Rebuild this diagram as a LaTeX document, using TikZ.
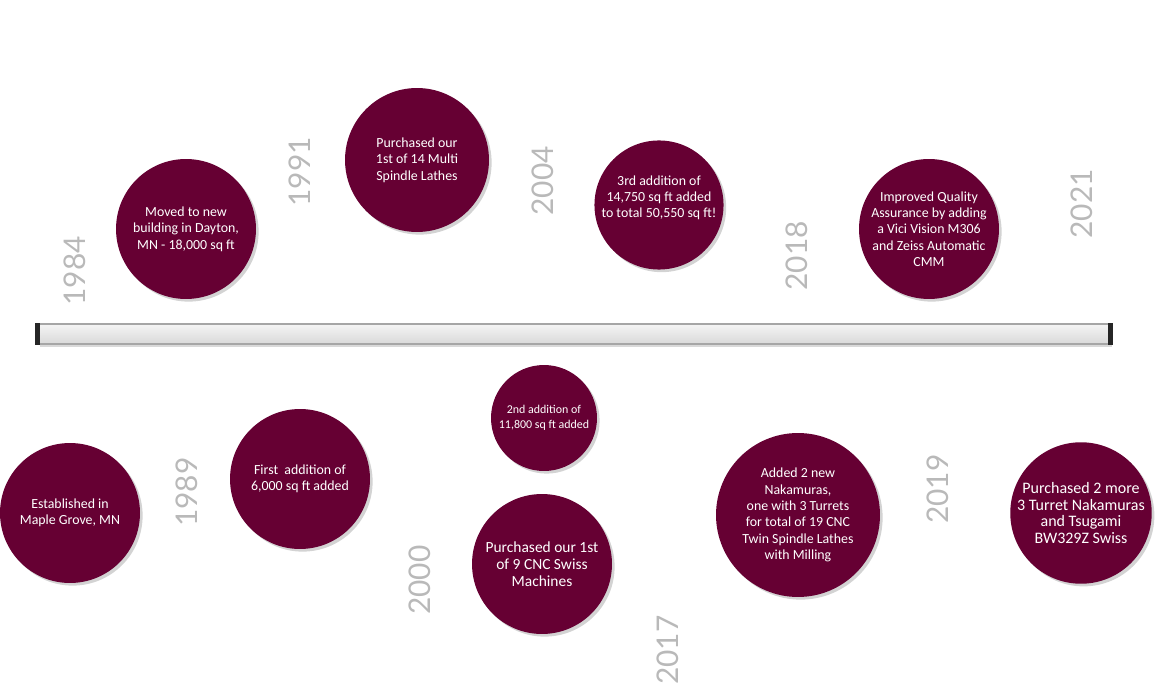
\documentclass[tikz,border=0pt]{standalone}
\usepackage{fontspec}
\setmainfont{Carlito}
\newfontfamily\yearfont{Lato}
\usetikzlibrary{shadows}
\definecolor{maroon}{RGB}{102, 0, 51}
\definecolor{yeargray}{RGB}{185, 185, 185}

\begin{document}
\begin{tikzpicture}[x=0.02cm, y=-0.02cm,
    event/.style={circle, fill=maroon, text=white, align=center, inner sep=0pt,
      font=\fontsize{7.9}{9.3}\selectfont,
      drop shadow={shadow xshift=1.5pt, shadow yshift=-1.5pt, opacity=0.35}},
    yr/.style={rotate=90, text=yeargray, font=\yearfont\fontsize{17}{17}\selectfont, inner sep=0pt}]
  \useasboundingbox (0, 0) rectangle (1160, 689);

  % the time line
  \node[rectangle, minimum width=21.44cm, minimum height=0.4cm, inner sep=0pt,
    top color=gray!8, bottom color=gray!30, draw=gray!70, line width=0.8pt,
    drop shadow={shadow xshift=1pt, shadow yshift=-1.5pt, opacity=0.3}] (bar) at (574, 334) {};
  \draw[line width=2.4pt, black!85] (bar.north west) -- (bar.south west);
  \draw[line width=2.4pt, black!85] (bar.north east) -- (bar.south east);

  % above the line
  \node[event, minimum size=2.8cm] (moved) at (186, 229) {Moved to new\\building in Dayton,\\MN - 18,000 sq ft};
  \node[event, minimum size=2.88cm] (lathes) at (417, 160) {Purchased our\\1st of 14 Multi\\Spindle Lathes};
  \node[event, minimum size=2.56cm] (third) at (659, 205) {3rd addition of\\14,750 sq ft added\\to total 50,550 sq ft!\\};
  \node[event, minimum size=2.8cm] (quality) at (929, 229) {Improved Quality\\Assurance by adding\\a Vici Vision M306\\and Zeiss Automatic\\CMM};

  % below the line
  \node[event, minimum size=2.8cm] (est) at (70, 513) {Established in\\Maple Grove, MN};
  \node[event, minimum size=2.8cm] (first) at (300, 479) {First\ \ addition of\\6,000 sq ft added};
  \node[event, minimum size=2.12cm, font=\fontsize{6.8}{8.6}\selectfont] (second) at (544, 418) {2nd addition of\\11,800 sq ft added};
  \node[event, minimum size=2.8cm, font=\fontsize{8.8}{9.5}\selectfont] (swiss) at (542, 564) {Purchased our 1st\\of 9 CNC Swiss\\Machines};
  \node[event, minimum size=3.28cm] (naka) at (798, 515) {Added 2 new\\Nakamuras,\\one with 3 Turrets\\for total of 19 CNC\\Twin Spindle Lathes\\with Milling};
  \node[event, minimum size=2.76cm, font=\fontsize{9.1}{9.5}\selectfont] (more) at (1081, 513) {Purchased 2 more\\3 Turret Nakamuras\\and Tsugami\\BW329Z Swiss};

  % years
  \node[yr] (y1984) at (75, 271) {1984};
  \node[yr] (y1991) at (300, 172) {1991};
  \node[yr] (y2004) at (543, 181) {2004};
  \node[yr] (y2018) at (797, 256) {2018};
  \node[yr] (y2021) at (1082, 204) {2021};
  \node[yr] (y1989) at (187, 492) {1989};
  \node[yr] (y2000) at (420, 580) {2000};
  \node[yr] (y2017) at (668, 650) {2017};
  \node[yr] (y2019) at (938, 489) {2019};
\end{tikzpicture}
\end{document}
